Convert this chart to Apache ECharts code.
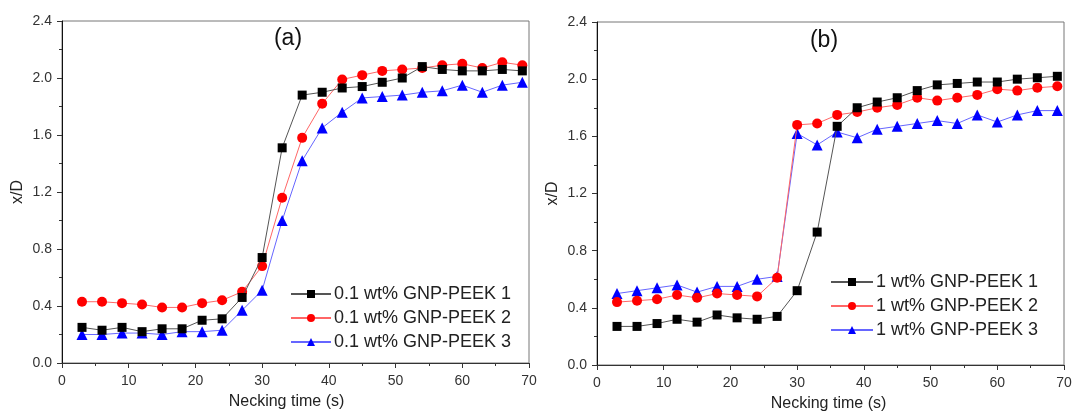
<!DOCTYPE html>
<html>
<head>
<meta charset="utf-8">
<script src="https://cdn.jsdelivr.net/npm/echarts@6/dist/echarts.min.js"></script>
<style>html,body{margin:0;padding:0;background:#fff;}#c{width:1074px;height:412px;}</style>
</head>
<body>
<div id="c"></div>
<script>
var times = [3,6,9,12,15,18,21,24,27,30,33,36,39,42,45,48,51,54,57,60,63,66,69];

var namesA = ['0.1 wt% GNP-PEEK 1','0.1 wt% GNP-PEEK 2','0.1 wt% GNP-PEEK 3'];
var a1 = [0.25,0.23,0.25,0.22,0.24,0.24,0.30,0.31,0.46,0.74,1.51,1.88,1.90,1.93,1.94,1.97,2.00,2.08,2.06,2.05,2.05,2.06,2.05];
var a2 = [0.43,0.43,0.42,0.41,0.39,0.39,0.42,0.44,0.50,0.68,1.16,1.58,1.82,1.99,2.02,2.05,2.06,2.07,2.09,2.10,2.07,2.11,2.09];
var a3 = [0.20,0.20,0.21,0.21,0.20,0.22,0.22,0.23,0.37,0.51,1.00,1.42,1.65,1.76,1.86,1.87,1.88,1.90,1.91,1.95,1.90,1.95,1.97];

var namesB = ['1 wt% GNP-PEEK 1','1 wt% GNP-PEEK 2','1 wt% GNP-PEEK 3'];
var b1 = [0.27,0.27,0.29,0.32,0.30,0.35,0.33,0.32,0.34,0.52,0.93,1.67,1.80,1.84,1.87,1.92,1.96,1.97,1.98,1.98,2.00,2.01,2.02];
var b2 = [0.44,0.45,0.46,0.49,0.47,0.50,0.49,0.48,0.61,1.68,1.69,1.75,1.77,1.80,1.82,1.87,1.85,1.87,1.89,1.93,1.92,1.94,1.95];
var b3 = [0.50,0.52,0.54,0.56,0.51,0.55,0.55,0.60,0.62,1.62,1.54,1.63,1.59,1.65,1.67,1.69,1.71,1.69,1.75,1.70,1.75,1.78,1.78];

var yTicks = ['0.0','0.4','0.8','1.2','1.6','2.0','2.4'];
var xTicks = ['0','10','20','30','40','50','60','70'];

function pairs(arr){ return times.map(function(t,i){ return [t, arr[i]]; }); }

var FONT = '"Liberation Sans", Arial, sans-serif';
var styles = [
  {symbol:'rect', size:9, mc:'#000000', lc:'#555555'},
  {symbol:'circle', size:10, mc:'#ff0000', lc:'#ff6666'},
  {symbol:'triangle', size:11, mc:'#0000ff', lc:'#6666ff'}
];

function xAx(idx, shift){
  return {
    type:'value', gridIndex:idx, min:0, max:70, interval:10,
    name:'Necking time (s)', nameLocation:'middle', nameGap:31,
    nameTextStyle:{fontFamily:FONT, fontSize:16, color:'#222', padding:[0, shift, 0, 0]},
    axisLine:{show:true, lineStyle:{color:'#333', width:1}},
    axisTick:{show:true, inside:false, length:5, lineStyle:{color:'#333'}},
    minorTick:{show:true, splitNumber:2, length:3, lineStyle:{color:'#333'}},
    axisLabel:{fontFamily:FONT, fontSize:14, color:'#333', margin:11,
      formatter:function(v){ var s=String(Math.round(v)); return xTicks.indexOf(s)>=0?s:''; }},
    splitLine:{show:false}
  };
}
function yAx(idx){
  return {
    type:'value', gridIndex:idx, min:0, max:2.4, interval:0.4,
    name:'x/D', nameLocation:'middle', nameGap:36, nameRotate:90,
    nameTextStyle:{fontFamily:FONT, fontSize:16, color:'#222'},
    axisLine:{show:true, lineStyle:{color:'#111', width:1}},
    axisTick:{show:true, inside:false, length:5, lineStyle:{color:'#333'}},
    minorTick:{show:true, splitNumber:2, length:3, lineStyle:{color:'#333'}},
    axisLabel:{fontFamily:FONT, fontSize:14, color:'#333', margin:10,
      formatter:function(v){ var s=v.toFixed(1); return yTicks.indexOf(s)>=0?s:''; }},
    splitLine:{show:false}
  };
}

var series = [];
[[a1,a2,a3],[b1,b2,b3]].forEach(function(group, gi){
  var names = gi===0 ? namesA : namesB;
  group.forEach(function(arr, si){
    var st = styles[si];
    series.push({
      type:'line', name:names[si], xAxisIndex:gi, yAxisIndex:gi,
      data:pairs(arr), symbol:st.symbol, symbolSize:st.size,
      showAllSymbol:true, animation:false,
      itemStyle:{color:st.mc},
      lineStyle:{color:st.lc, width:1},
      z: 3 - si
    });
  });
});

var chart = echarts.init(document.getElementById('c'), null, {renderer:'canvas'});
chart.setOption({
  animation:false,
  backgroundColor:'#ffffff',
  title:[
    {text:'(a)', left:283, top:22, textAlign:'center', textStyle:{fontFamily:FONT, fontSize:23, fontWeight:'normal', color:'#111'}},
    {text:'(b)', left:819, top:24, textAlign:'center', textStyle:{fontFamily:FONT, fontSize:23, fontWeight:'normal', color:'#111'}}
  ],
  grid:[
    {left:62, top:21, width:467, height:342, show:true, borderColor:'#777', borderWidth:1, backgroundColor:'transparent', containLabel:false, outerBoundsMode:'none'},
    {left:597, top:22, width:467, height:343, show:true, borderColor:'#777', borderWidth:1, backgroundColor:'transparent', containLabel:false, outerBoundsMode:'none'}
  ],
  xAxis:[xAx(0, 18), xAx(1, 4)],
  yAxis:[yAx(0), yAx(1)],
  legend:[
    {data:namesA, orient:'vertical', left:290, top:285, itemWidth:40, itemHeight:10, itemGap:6,
     textStyle:{fontFamily:FONT, fontSize:18, color:'#222', padding:[0,0,0,-2]}, padding:0},
    {data:namesB, orient:'vertical', left:830, top:273, itemWidth:42, itemHeight:10, itemGap:6,
     textStyle:{fontFamily:FONT, fontSize:18, color:'#222', padding:[0,0,0,-2]}, padding:0}
  ],
  series:series
});
</script>
</body>
</html>
